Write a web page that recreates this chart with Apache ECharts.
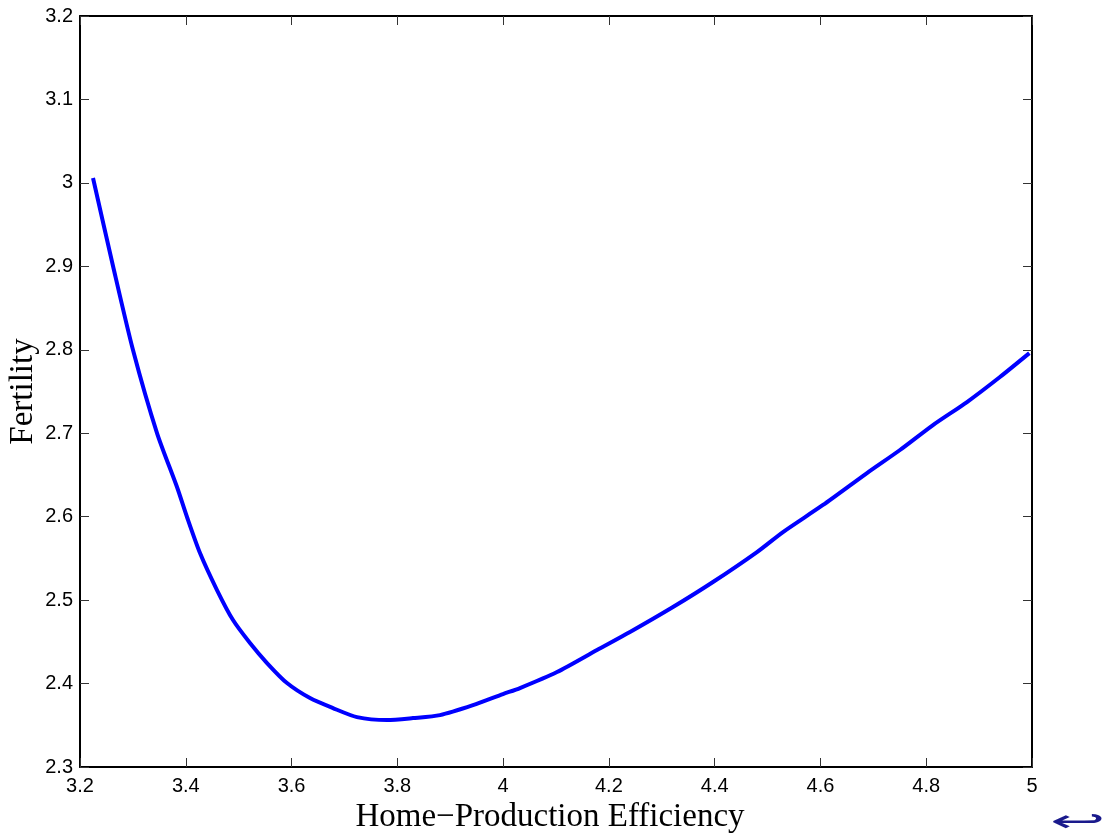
<!DOCTYPE html>
<html>
<head>
<meta charset="utf-8">
<script src="https://cdn.jsdelivr.net/npm/echarts@6/dist/echarts.min.js"></script>
<style>
html,body{margin:0;padding:0;background:#fff;}
#chart{width:1107px;height:837px;}
</style>
</head>
<body>
<div id="chart"></div>
<script>
// Data
const efficiency = [3.2246,3.2624,3.3002,3.3456,3.3834,3.4023,3.4269,3.4590,3.4893,3.5214,3.5536,3.5914,3.6349,3.6783,3.7237,3.7804,3.8296,3.8807,3.9430,3.9998,4.0319,4.1019,4.1775,4.2399,4.3212,4.3968,4.4800,4.5292,4.6048,4.6880,4.7504,4.8128,4.8771,4.9394,4.9950];
const fertility  = [3.0058,2.9004,2.7997,2.7002,2.6355,2.5996,2.5564,2.5121,2.4761,2.4486,2.4246,2.4006,2.3826,2.3706,2.3598,2.3562,2.3586,2.3622,2.3741,2.3874,2.3946,2.4138,2.4402,2.4618,2.4917,2.5217,2.5576,2.5816,2.6140,2.6523,2.6799,2.7098,2.7374,2.7674,2.7960];
const xTitle = 'Home\u2212Production Efficiency';
const yTitle = 'Fertility';
const xRange = [3.2, 5, 0.2];
const yRange = [2.3, 3.2, 0.1];

const seriesData = efficiency.map((x, i) => [x, fertility[i]]);
const fmt = v => String(parseFloat(Number(v).toFixed(2)));

const chart = echarts.init(document.getElementById('chart'), null, {renderer: 'canvas'});
const labelStyle = {color: '#000', fontFamily: 'Liberation Sans, Arial, sans-serif', fontSize: 20};
const lineStyle = {color: '#000', width: 2};
const tickStyle = {show: true, inside: true, length: 9, lineStyle: {color: '#333', width: 1}};

chart.setOption({
  animation: false,
  backgroundColor: '#fff',
  grid: {left: 80, top: 16, right: 75, bottom: 70, containLabel: false, outerBoundsMode: 'none'},
  xAxis: [{
    type: 'value', min: xRange[0], max: xRange[1], interval: xRange[2], position: 'bottom',
    axisLine: {show: true, onZero: false, lineStyle: lineStyle},
    axisTick: tickStyle,
    axisLabel: Object.assign({formatter: fmt, margin: 9, showMinLabel: true, showMaxLabel: true}, labelStyle),
    splitLine: {show: false},
    name: xTitle, nameLocation: 'middle', nameGap: 28,
    nameTextStyle: {color: '#000', fontFamily: 'Liberation Serif, Times New Roman, serif', fontSize: 33, padding: [0, 12, 0, 0]}
  }, {
    type: 'value', min: xRange[0], max: xRange[1], interval: xRange[2], position: 'top',
    axisLine: {show: true, onZero: false, lineStyle: lineStyle},
    axisTick: tickStyle, axisLabel: {show: false}, splitLine: {show: false}
  }],
  yAxis: [{
    type: 'value', min: yRange[0], max: yRange[1], interval: yRange[2], position: 'left',
    axisLine: {show: true, onZero: false, lineStyle: lineStyle},
    axisTick: tickStyle,
    axisLabel: Object.assign({formatter: fmt, margin: 7, showMinLabel: true, showMaxLabel: true}, labelStyle),
    splitLine: {show: false},
    name: yTitle, nameLocation: 'middle', nameGap: 40, nameRotate: 90, nameMoveOverlap: false,
    nameTextStyle: {color: '#000', fontFamily: 'Liberation Serif, Times New Roman, serif', fontSize: 33}
  }, {
    type: 'value', min: yRange[0], max: yRange[1], interval: yRange[2], position: 'right',
    axisLine: {show: true, onZero: false, lineStyle: lineStyle},
    axisTick: tickStyle, axisLabel: {show: false}, splitLine: {show: false}
  }],
  series: [{
    type: 'line', data: seriesData, xAxisIndex: 0, yAxisIndex: 0,
    showSymbol: false, smooth: 0.25,
    lineStyle: {color: '#0000ff', width: 4}
  }],
  graphic: [{
    type: 'text', left: 1050, top: 808,
    style: {text: '\u21A9', fill: '#1a1a8c', fontSize: 30, fontFamily: 'DejaVu Sans'},
    scaleX: 2.2
  }]
});
</script>
</body>
</html>
